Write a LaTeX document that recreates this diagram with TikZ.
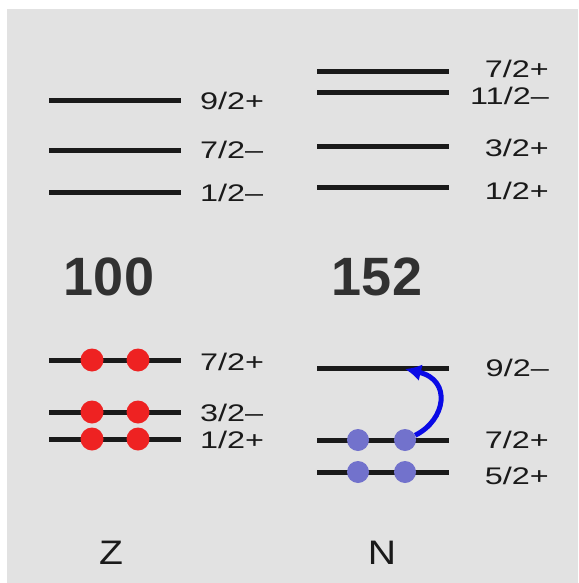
\documentclass[tikz,border=0pt]{standalone}
\usepackage{fontspec}
\setmainfont{Liberation Sans}
\newfontfamily\widefont[FakeStretch=1.35]{Liberation Sans}
\newfontfamily\axfont[FakeStretch=1.15]{Liberation Sans}
\usetikzlibrary{arrows.meta}
\definecolor{bggray}{HTML}{E2E2E2}
\definecolor{protred}{HTML}{EE2222}
\definecolor{neutblue}{HTML}{7272CC}
\definecolor{arrowblue}{HTML}{0A0AE6}
\definecolor{ink}{HTML}{1A1A1A}
\begin{document}
\begin{tikzpicture}[x=1pt,y=-1pt,
  level/.style={line width=5pt, draw=ink},
  lab/.style={font=\widefont\fontsize{24}{24}\selectfont, inner sep=0pt, text=ink},
  big/.style={font=\bfseries\fontsize{54}{54}\selectfont, inner sep=0pt, text=ink!90},
  ax/.style={font=\axfont\fontsize{34}{34}\selectfont, inner sep=0pt, text=ink},
  proton/.style={circle, fill=protred, minimum size=23pt, inner sep=0pt},
  neutron/.style={circle, fill=neutblue, minimum size=22pt, inner sep=0pt},
  jump/.style={draw=arrowblue, line width=5pt, -{Latex[length=16pt,width=17pt]}}]
\useasboundingbox (0,0) rectangle (578,583);
\fill[bggray] (7,9) rectangle (578,583);

% ---- Z (protons), upper levels
\draw[level] (49,101) -- (181,101);
\draw[level] (49,150) -- (181,150);
\draw[level] (49,192) -- (181,192);
\node[lab, anchor=base west] (zl1) at (200,110) {9/2+};
\node[lab, anchor=base west] (zl2) at (200,158) {7/2–};
\node[lab, anchor=base west] (zl3) at (200,201) {1/2–};

% ---- N (neutrons), upper levels
\draw[level] (317,72) -- (449,72);
\draw[level] (317,93) -- (449,93);
\draw[level] (317,146) -- (449,146);
\draw[level] (317,187) -- (449,187);
\node[lab, anchor=base east] (nl1) at (549,78) {7/2+};
\node[lab, anchor=base east] (nl2) at (549,105) {11/2–};
\node[lab, anchor=base east] (nl3) at (549,156) {3/2+};
\node[lab, anchor=base east] (nl4) at (549,199) {1/2+};

% ---- magic numbers
\node[big, anchor=base] (m100) at (109,295) {100};
\node[big, anchor=base] (m152) at (377,295) {152};

% ---- Z lower levels with protons
\draw[level] (49,360) -- (181,360);
\draw[level] (49,412) -- (181,412);
\draw[level] (49,439) -- (181,439);
\node[proton] (pa1) at (92,360) {};
\node[proton] (pa2) at (138,360) {};
\node[proton] (pb1) at (92,412) {};
\node[proton] (pb2) at (138,412) {};
\node[proton] (pc1) at (92,439) {};
\node[proton] (pc2) at (138,439) {};
\node[lab, anchor=base west] (zl4) at (200,370) {7/2+};
\node[lab, anchor=base west] (zl5) at (200,421) {3/2–};
\node[lab, anchor=base west] (zl6) at (200,448) {1/2+};

% ---- N lower levels with neutrons
\draw[level] (317,368) -- (449,368);
\draw[level] (317,440) -- (449,440);
\draw[level] (317,472) -- (449,472);
\node[neutron] (na1) at (358,440) {};
\node[neutron] (na2) at (405,440) {};
\node[neutron] (nb1) at (358,472) {};
\node[neutron] (nb2) at (405,472) {};
\node[lab, anchor=base east] (nl5) at (549,376) {9/2–};
\node[lab, anchor=base east] (nl6) at (549,448) {7/2+};
\node[lab, anchor=base east] (nl7) at (549,484) {5/2+};

% ---- excitation arrow
\coordinate (tip) at (405,369);
\draw[jump] (na2.25) .. controls (446,420) and (452,380) .. (tip);

% ---- axis letters
\node[ax, anchor=base] (zz) at (111,564) {Z};
\node[ax, anchor=base] (nn) at (382,564) {N};
\end{tikzpicture}
\end{document}
